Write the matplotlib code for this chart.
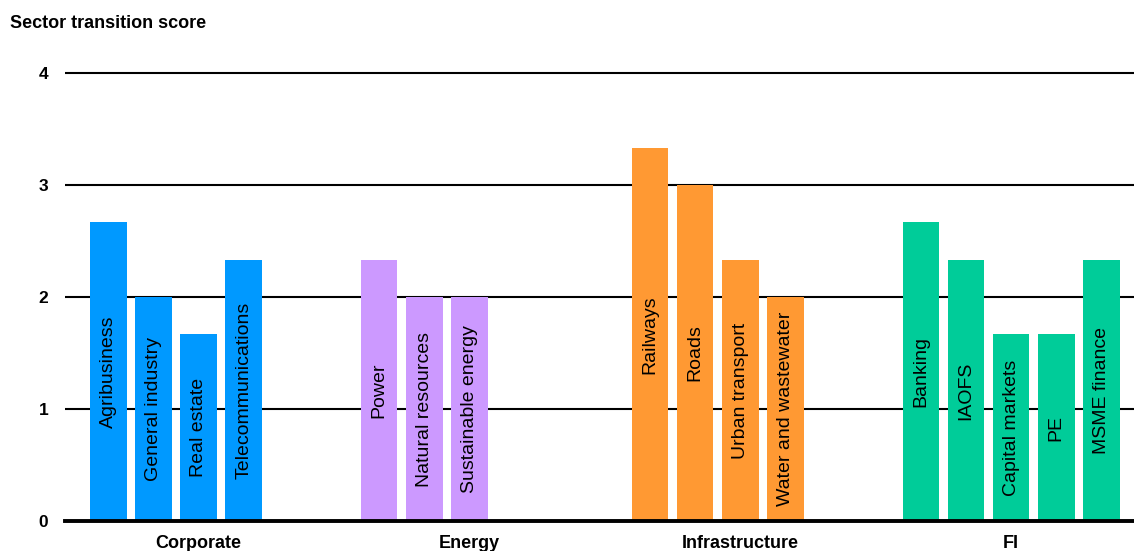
"""Sector transition score by sector, grouped bar chart"""

import matplotlib.pyplot as plt

plt.rcParams['font.family'] = ['Liberation Sans', 'DejaVu Sans']

GROUPS = ['Corporate', 'Energy', 'Infrastructure', 'FI']
SECTORS = [
    ['Agribusiness', 'General industry', 'Real estate', 'Telecommunications'],
    ['Power', 'Natural resources', 'Sustainable energy'],
    ['Railways', 'Roads', 'Urban transport', 'Water and wastewater'],
    ['Banking', 'IAOFS', 'Capital markets', 'PE', 'MSME finance'],
]
SCORES = [
    [2.67, 2.0, 1.67, 2.33],
    [2.33, 2.0, 2.0],
    [3.33, 3.0, 2.33, 2.0],
    [2.67, 2.33, 1.67, 1.67, 2.33],
]
COLORS = ['#0099ff', '#cc99ff', '#ff9933', '#00cc99']
Y_TICKS = [0, 1, 2, 3, 4]

# each group takes 5 slots, plus one empty slot between groups
SLOTS_PER_GROUP = 6


def plot_scores() -> None:
    """Draw the bars with their labels written inside them."""
    fig = plt.figure(figsize=(11.34, 5.51), dpi=100)
    # a little headroom above 4 so the top gridline is not clipped
    ax = fig.add_axes([0.0573, 0.0544, 0.9427, 0.8232])

    group_centers = []
    for i, group in enumerate(GROUPS):
        start = i * SLOTS_PER_GROUP
        xs = [start + j for j in range(len(SECTORS[i]))]
        ax.bar(xs, SCORES[i], width=0.81, color=COLORS[i], zorder=2)
        for x, name, score in zip(xs, SECTORS[i], SCORES[i]):
            ax.text(x, score / 2, name, rotation=90, ha='center', va='center',
                    fontsize=14, color='black', zorder=3)
        group_centers.append(start + 2)

    ax.set_xlim(-0.96, 22.72)
    ax.set_ylim(0, 4.05)

    ax.set_yticks(Y_TICKS)
    ax.set_yticklabels([str(t) for t in Y_TICKS], fontweight='bold', fontsize=12.5)
    ax.set_xticks(group_centers)
    ax.set_xticklabels(GROUPS, fontweight='bold', fontsize=13)
    ax.tick_params(axis='y', length=0, pad=12)
    ax.tick_params(axis='x', length=0, pad=10)

    ax.grid(axis='y', color='black', linewidth=1.5)
    ax.set_axisbelow(True)
    for side in ['top', 'right', 'left']:
        ax.spines[side].set_visible(False)
    ax.spines['bottom'].set_linewidth(2.8)
    ax.spines['bottom'].set_zorder(4)

    fig.text(0.009, 0.958, 'Sector transition score', fontweight='bold',
             fontsize=13, ha='left', va='center')

    fig.savefig('out.png', dpi=100)


if __name__ == '__main__':
    plot_scores()
